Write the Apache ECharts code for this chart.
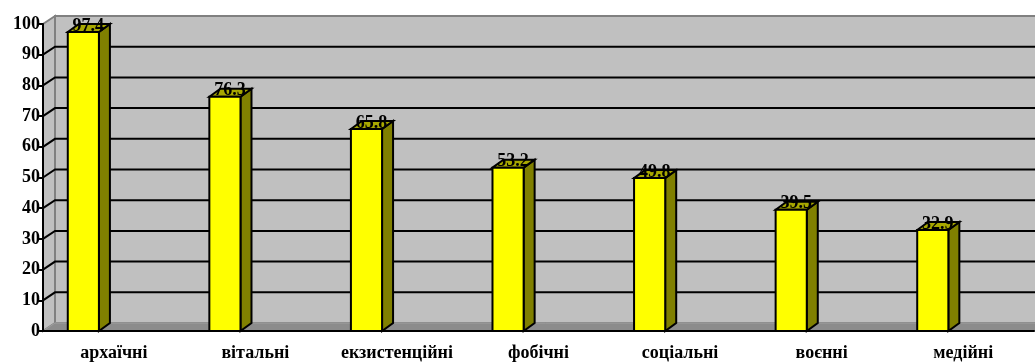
<!DOCTYPE html>
<html lang="uk">
<head>
    <meta charset="UTF-8">
    <title>Страхи</title>
    <script type="text/javascript" src="https://cdn.jsdelivr.net/npm/echarts@6/dist/echarts.min.js"></script>
    <style>
        html, body { margin: 0; padding: 0; background: #fff; }
    </style>
</head>
<body>
<div id="main" style="width: 1035px;height:363px;"></div>
<script>
    // дані діаграми
    var categories = ['архаїчні', 'вітальні', 'екзистенційні', 'фобічні', 'соціальні', 'воєнні', 'медійні'];
    var values = [97.4, 76.3, 65.8, 53.2, 49.8, 39.5, 32.9];
    var gridValues = [10, 20, 30, 40, 50, 60, 70, 80, 90];

    var DX = 12, DY = 8; // глибина "3D"
    var FONT = 'Liberation Serif, Times New Roman, serif';

    var myChart = echarts.init(document.getElementById('main'));

    // стіни та підлога
    function renderWalls(params, api) {
        var cs = params.coordSys;
        var x = cs.x, y = cs.y, w = cs.width, h = cs.height;
        return {
            type: 'group',
            children: [
                {
                    type: 'rect',
                    shape: {x: x + DX, y: y - DY, width: w + 20, height: h},
                    style: {fill: '#c0c0c0', stroke: '#808080', lineWidth: 2}
                },
                {
                    type: 'polygon',
                    shape: {points: [[x, y + h], [x, y], [x + DX, y - DY], [x + DX, y + h - DY]]},
                    style: {fill: '#c0c0c0', stroke: '#808080', lineWidth: 2}
                },
                {
                    type: 'polygon',
                    shape: {points: [[x, y + h], [x + DX, y + h - DY], [x + w + 20, y + h - DY], [x + w + 20, y + h]]},
                    style: {fill: '#8c8c8c', stroke: '#a0a0a0', lineWidth: 1}
                }
            ]
        };
    }

    // лінії сітки на стінах
    function renderGrid(params, api) {
        var cs = params.coordSys;
        var yy = api.coord([0, api.value(0)])[1];
        return {
            type: 'polyline',
            shape: {points: [[cs.x, yy], [cs.x + DX, yy - DY], [cs.x + cs.width + 20, yy - DY]]},
            style: {fill: null, stroke: '#000', lineWidth: 2}
        };
    }

    // стовпчики
    function renderBar(params, api) {
        var idx = api.value(0);
        var top = api.coord([idx, api.value(1)]);
        var base = api.coord([idx, 0]);
        var bw = api.size([1, 0])[0];
        var x0 = top[0] - 0.325 * bw;
        var w = 0.22 * bw;
        var dx = 11, dy = 8;
        return {
            type: 'group',
            children: [
                {
                    type: 'polygon',
                    shape: {points: [[x0 + w, base[1]], [x0 + w, top[1]], [x0 + w + dx, top[1] - dy], [x0 + w + dx, base[1] - dy]]},
                    style: {fill: '#808000', stroke: '#000', lineWidth: 2}
                },
                {
                    type: 'polygon',
                    shape: {points: [[x0, top[1]], [x0 + dx, top[1] - dy], [x0 + w + dx, top[1] - dy], [x0 + w, top[1]]]},
                    style: {fill: '#a8a800', stroke: '#000', lineWidth: 2}
                },
                {
                    type: 'rect',
                    shape: {x: x0, y: top[1], width: w, height: base[1] - top[1]},
                    style: {fill: '#ffff00', stroke: '#000', lineWidth: 2}
                },
                {
                    type: 'text',
                    style: {
                        text: String(api.value(1)),
                        x: x0 + w / 2 + 5,
                        y: top[1] - 6,
                        align: 'center',
                        verticalAlign: 'middle',
                        font: 'bold 18px ' + FONT,
                        fill: '#000'
                    }
                }
            ]
        };
    }

    var option = {
        animation: false,
        grid: {left: 43, top: 24, width: 991, height: 307},
        xAxis: {
            type: 'category',
            data: categories,
            axisLine: {lineStyle: {color: '#000', width: 2}},
            axisTick: {length: 6, lineStyle: {color: '#000', width: 2}},
            axisLabel: {
                color: '#000',
                fontFamily: FONT,
                fontWeight: 'bold',
                fontSize: 18,
                margin: 13,
                interval: 0
            },
            z: 10
        },
        yAxis: {
            type: 'value',
            min: 0,
            max: 100,
            interval: 10,
            axisLine: {show: true, lineStyle: {color: '#000', width: 2}},
            axisTick: {show: true, length: 5, lineStyle: {color: '#000', width: 2}},
            axisLabel: {
                color: '#000',
                fontFamily: FONT,
                fontWeight: 'bold',
                fontSize: 18,
                margin: 3
            },
            splitLine: {show: false},
            z: 10
        },
        series: [
            {
                type: 'custom',
                renderItem: renderWalls,
                data: [[0]],
                z: 1,
                silent: true
            },
            {
                type: 'custom',
                renderItem: renderGrid,
                data: gridValues.map(function (v) { return [v]; }),
                encode: {y: 0},
                z: 2,
                silent: true
            },
            {
                type: 'custom',
                renderItem: renderBar,
                data: values.map(function (v, i) { return [i, v]; }),
                encode: {x: 0, y: 1},
                z: 3
            }
        ]
    };

    myChart.setOption(option);
</script>
</body>
</html>
